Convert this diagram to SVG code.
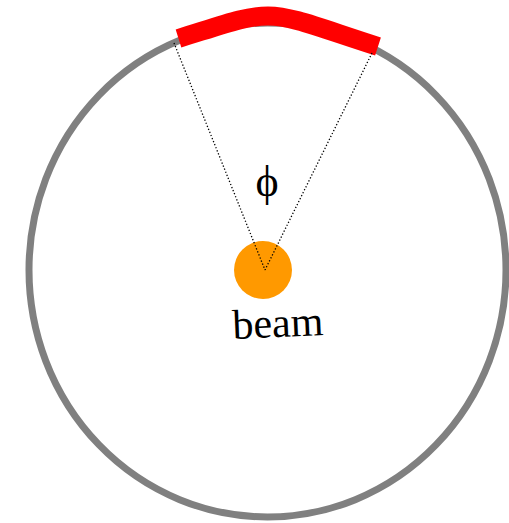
<svg xmlns="http://www.w3.org/2000/svg" width="509" height="523" viewBox="0 0 509 523">
<style>
.lbl{font-family:"Liberation Serif","Times New Roman",serif;fill:#000;text-anchor:middle}
.dot{stroke:#000;stroke-width:1.3;stroke-dasharray:1.3 2;fill:none}
</style>
<rect width="509" height="523" fill="#fff"/>
<g id="detector">
<ellipse cx="267.5" cy="270" rx="238.5" ry="247" fill="none" stroke="#808080" stroke-width="7"/>
</g>
<g id="segment">
<path d="M178.5,38.5 C225,24 245,16 268,16 C292,16 320,28 378,46.5" fill="none" stroke="#ff0000" stroke-width="19"/>
</g>
<g id="beam">
<circle cx="263" cy="270" r="29" fill="#ff9900"/>
<text class="lbl" x="278" y="337" font-size="42" transform="rotate(-2.5 278 327)">beam</text>
</g>
<g id="angle">
<text class="lbl" x="267" y="196" font-size="44">ϕ</text>
</g>
<g id="connectors">
<line class="dot" x1="174" y1="43" x2="265" y2="270"/>
<line class="dot" x1="372" y1="53" x2="265" y2="270"/>
</g>
</svg>
